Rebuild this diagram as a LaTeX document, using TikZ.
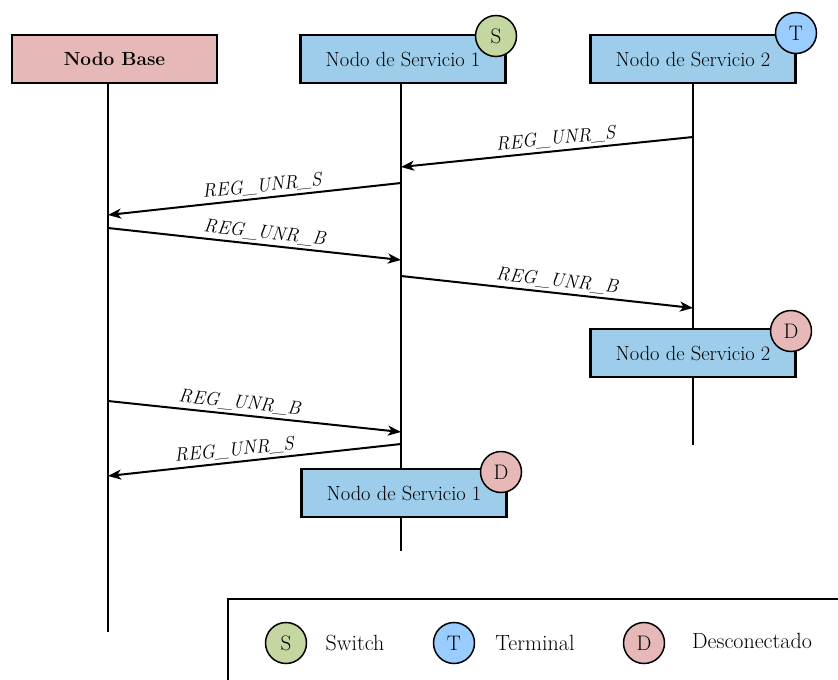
\documentclass[tikz,border=0pt]{standalone}
\usetikzlibrary{arrows.meta}
\definecolor{basepink}{RGB}{230,184,183}
\definecolor{servblue}{RGB}{157,205,234}
\definecolor{swgreen}{RGB}{197,215,160}
\definecolor{termblue}{RGB}{153,204,255}
\tikzset{
  boxtext/.style={font=\fontsize{20.5}{23}\selectfont},
  actor/.style={draw, line width=2.2pt, minimum width=205pt, minimum height=48pt,
    inner sep=0pt, boxtext},
  basebox/.style={actor, fill=basepink, font=\fontsize{19}{22}\selectfont\bfseries},
  servbox/.style={actor, fill=servblue},
  badge/.style={circle, draw, line width=1.5pt, minimum size=41pt, inner sep=0pt,
    font=\fontsize{21}{24}\selectfont},
  lifeline/.style={line width=2pt},
  msg/.style={line width=2pt, -{Stealth[length=13pt,width=10pt,inset=3.5pt]}},
  msglabel/.style={sloped, above, inner sep=3pt,
    font=\fontsize{19}{22}\selectfont\itshape},
  legendtext/.style={anchor=center, font=\fontsize{22}{25}\selectfont}
}
\begin{document}
\begin{tikzpicture}[x=1pt,y=-1pt]
\useasboundingbox (0,0) rectangle (838,680);
\clip (0,0) rectangle (838,680);

% lifeline end points
\coordinate (nbend) at (108,632);
\coordinate (s1end) at (401,551);
\coordinate (s2end) at (693,445);

% message end points on the lifelines
\coordinate (m1a) at (693,137); \coordinate (m1b) at (401,167);
\coordinate (m2a) at (401,183); \coordinate (m2b) at (108,215);
\coordinate (m3a) at (108,228); \coordinate (m3b) at (401,260);
\coordinate (m4a) at (401,276); \coordinate (m4b) at (693,308);
\coordinate (m5a) at (108,401); \coordinate (m5b) at (401,432);
\coordinate (m6a) at (401,444); \coordinate (m6b) at (108,476);

% header box centres
\path (114.5,59) coordinate (nbc) (403,59) coordinate (s1c) (693,59) coordinate (s2c);

% lifelines
\draw[lifeline] (nbc |- 0,83) coordinate (nbtop) (nbend |- nbtop) -- (nbend);
\draw[lifeline] (s1end |- nbtop) -- (s1end);
\draw[lifeline] (s2end |- nbtop) -- (s2end);

% actors
\node[basebox] (nb) at (nbc) {Nodo Base};
\node[servbox] (s1) at (s1c) {Nodo de Servicio 1};
\node[servbox] (s2) at (s2c) {Nodo de Servicio 2};
\node[badge, fill=swgreen] (s1st) at (496,36) {S};
\node[badge, fill=termblue] (s2st) at (796,33) {T};

% messages
\draw[msg] (m1a) -- node[msglabel, pos=0.466] {REG\_UNR\_S} (m1b);
\draw[msg] (m2a) -- node[msglabel, pos=0.47] {REG\_UNR\_S} (m2b);
\draw[msg] (m3a) -- node[msglabel, pos=0.53] {REG\_UNR\_B} (m3b);
\draw[msg] (m4a) -- node[msglabel, pos=0.53] {REG\_UNR\_B} (m4b);

% Nodo de Servicio 2 disconnected
\node[servbox] (s2d) at (693,353) {Nodo de Servicio 2};
\node[badge, fill=basepink] (s2dst) at (791,331) {D};

\draw[msg] (m5a) -- node[msglabel, pos=0.445] {REG\_UNR\_B} (m5b);
\draw[msg] (m6a) -- node[msglabel, pos=0.565] {REG\_UNR\_S} (m6b);

% Nodo de Servicio 1 disconnected
\node[servbox] (s1d) at (404,493) {Nodo de Servicio 1};
\node[badge, fill=basepink] (s1dst) at (501,472) {D};

% legend
\draw[line width=2.6pt] (228,700) -- (228,599) -- (860,599);
\node[badge, fill=swgreen] (lgs) at (286,643) {S};
\node[legendtext] (lgst) at (355,643) {Switch};
\node[badge, fill=termblue] (lgt) at (454,643) {T};
\node[legendtext] (lgtt) at (535,643) {Terminal};
\node[badge, fill=basepink] (lgd) at (644,643) {D};
\node[legendtext] (lgdt) at (752,641) {Desconectado};
\end{tikzpicture}
\end{document}
